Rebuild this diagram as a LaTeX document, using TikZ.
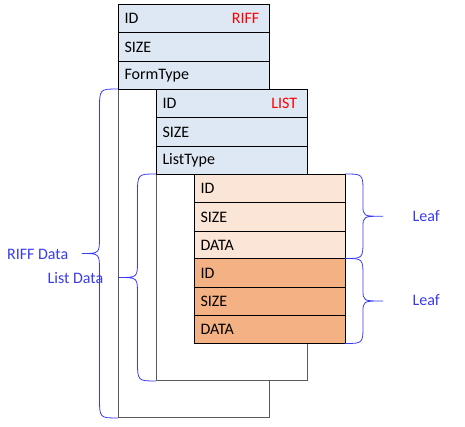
\documentclass[tikz,border=0pt]{standalone}
\usepackage{fontspec}
\setmainfont{Carlito}
\definecolor{hdr}{HTML}{DEE8F4}
\definecolor{peach}{HTML}{FBE5D6}
\definecolor{orng}{HTML}{F4B183}
\definecolor{bblue}{HTML}{3A3AF0}
\definecolor{frame}{HTML}{5A5A5A}
\newcommand\mybrace[6]{% xe, y1, y2, xv, xt, name
  \pgfmathsetmacro\ym{(#2+#3)/2}
  \pgfmathsetmacro\rr{min(21,(#3-#2)/4.5)}
  \pgfmathsetmacro\rt{min(17,(#3-#2)/7.5)}
  \draw[bracel] (#1,#2) .. controls (#4,#2) .. (#4,#2+\rr) -- (#4,\ym-\rt)
     .. controls (#4,\ym) .. (#5,\ym) coordinate (#6)
     .. controls (#4,\ym) .. (#4,\ym+\rt) -- (#4,#3-\rr)
     .. controls (#4,#3) .. (#1,#3);
}
\begin{document}
\begin{tikzpicture}[x=0.75pt,y=-0.75pt,
  font=\fontsize{12}{14}\selectfont,
  rowbox/.style={draw=black, line width=0.75pt, anchor=north west,
    minimum width=113.25pt, minimum height=21.25pt, inner xsep=4.5pt, inner ysep=0pt,
    text width=104.25pt, align=left},
  outer/.style={draw=frame, fill=white, line width=0.75pt},
  tag/.style={text=red, anchor=east},
  bracel/.style={draw=bblue, line width=0.6pt},
  btext/.style={text=bblue}]
\useasboundingbox (0,0) rectangle (465,427);
% RIFF chunk
\draw[outer] (118,89) rectangle (269,418);
\node[rowbox, fill=hdr] (r1) at (118,4) {ID};
\node[rowbox, fill=hdr] (r2) at (118,32.33) {SIZE};
\node[rowbox, fill=hdr] (r3) at (118,60.67) {FormType};
\node[tag] (rt) at ([xshift=-4.5pt]r1.east) {RIFF};
% LIST chunk
\draw[outer] (156,174) rectangle (307,381);
\node[rowbox, fill=hdr] (l1) at (156,89) {ID};
\node[rowbox, fill=hdr] (l2) at (156,117.33) {SIZE};
\node[rowbox, fill=hdr] (l3) at (156,145.67) {ListType};
\node[tag] (lt) at ([xshift=-4.5pt]l1.east) {LIST};
% leaves
\node[rowbox, fill=peach] (a1) at (194,174) {ID};
\node[rowbox, fill=peach] (a2) at (194,202.33) {SIZE};
\node[rowbox, fill=peach] (a3) at (194,230.67) {DATA};
\node[rowbox, fill=orng] (b1) at (194,258.5) {ID};
\node[rowbox, fill=orng] (b2) at (194,286.83) {SIZE};
\node[rowbox, fill=orng] (b3) at (194,315.17) {DATA};
% braces
\mybrace{118}{89}{418}{99.5}{82}{riffbr}
\mybrace{156}{174}{381}{137.5}{119}{listbr}
\mybrace{345}{174}{258.5}{363}{383}{leafa}
\mybrace{345}{258.5}{343.5}{363}{383}{leafb}
\node[btext, anchor=east] (riffd) at (73,254) {RIFF Data};
\node[btext, anchor=east] (listd) at (108,278) {List Data};
\node[btext, anchor=west] (lfa) at (408,216) {Leaf};
\node[btext, anchor=west] (lfb) at (408,300) {Leaf};
\end{tikzpicture}
\end{document}
